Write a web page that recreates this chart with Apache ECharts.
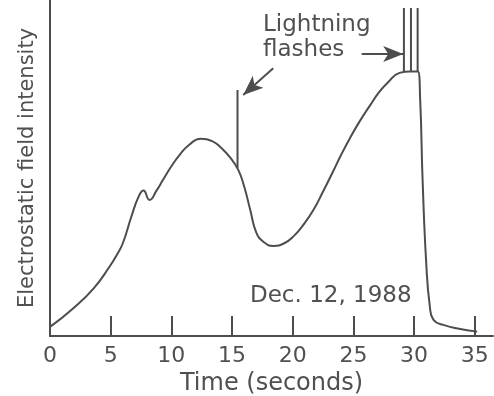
<!DOCTYPE html>
<html>
<head>
<meta charset="utf-8">
<script src="https://cdn.jsdelivr.net/npm/echarts@6/dist/echarts.min.js"></script>
<style>
html, body { margin: 0; padding: 0; background: #fff; }
#chart { width: 494px; height: 396px; }
</style>
</head>
<body>
<div id="chart"></div>
<script>
// time in seconds, field intensity in arbitrary units (0-100)
var fieldCurve = [
    [0, 2.7], [1.9, 8.2], [3.6, 14.2], [4.9, 20.6], [5.5, 24.1], [6.0, 27.6],
    [6.7, 35.5], [7.3, 41.5], [7.7, 43.3], [8.2, 40.5], [8.8, 43.4],
    [9.3, 46.4], [10.0, 50.5], [10.7, 54.0], [11.5, 57.0], [12.4, 58.7],
    [13.4, 57.9], [14.1, 56.0], [14.8, 53.3], [15.5, 49.5], [16.0, 44.5],
    [16.5, 37.5], [17.0, 30.8], [17.6, 28.0], [18.4, 26.8], [19.3, 27.6],
    [20.1, 29.8], [20.9, 33.2], [21.7, 37.5], [22.5, 43.0], [23.3, 48.8],
    [24.0, 54.0], [24.7, 58.8], [25.5, 63.8], [26.4, 68.8], [27.1, 72.5],
    [27.8, 75.3], [28.8, 78.3], [29.7, 78.7], [30.3, 78.7], [30.5, 70.2],
    [30.7, 46.4], [31.0, 21.6], [31.3, 8.7], [31.6, 4.8], [32.4, 3.3],
    [33.8, 2.1], [35.2, 1.3]
];
// lightning flashes: [time, base, top]
var flashes = [
    [15.45, 50.0, 73.2],
    [29.16, 78.5, 97.6],
    [29.74, 78.7, 97.6],
    [30.29, 78.7, 97.6]
];
// arrows: [fromTime, fromValue, toTime, toValue]
var arrows = [
    [18.39, 79.7, 15.92, 71.7],
    [25.68, 83.9, 29.1, 83.9]
];
var tickValues = [5, 10, 15, 20, 25, 30, 35];
var labelValues = [0, 5, 10, 15, 20, 25, 30, 35];

var ink = '#4d4d4d';
var textInk = '#505050';
var font = 'DejaVu Sans';

var flashData = [];
flashes.forEach(function (f) {
    flashData.push([f[0], f[1]], [f[0], f[2]], '-');
});

var arrowData = arrows.map(function (a) {
    return [{ coord: [a[0], a[1]] }, { coord: [a[2], a[3]] }];
});

var chart = echarts.init(document.getElementById('chart'));
var option = {
    animation: false,
    grid: { left: 50, right: 1, top: 0, bottom: 60, outerBoundsMode: 'none', containLabel: false },
    xAxis: {
        type: 'value',
        min: 0,
        max: 36.5,
        name: 'Time (seconds)',
        nameLocation: 'middle',
        nameGap: 33,
        nameTextStyle: { fontFamily: font, fontSize: 24, color: textInk },
        axisLine: { lineStyle: { color: ink, width: 2 } },
        axisTick: {
            show: true,
            inside: true,
            length: 20,
            customValues: tickValues,
            lineStyle: { color: ink, width: 2 }
        },
        axisLabel: {
            customValues: labelValues,
            fontFamily: font,
            fontSize: 22,
            color: textInk,
            margin: 9
        },
        splitLine: { show: false }
    },
    yAxis: {
        type: 'value',
        min: 0,
        max: 100,
        name: 'Electrostatic field intensity',
        nameLocation: 'middle',
        nameGap: 12,
        nameTextStyle: { fontFamily: font, fontSize: 21, color: textInk },
        axisLine: { show: true, lineStyle: { color: ink, width: 2 } },
        axisTick: { show: false },
        axisLabel: { show: false },
        splitLine: { show: false }
    },
    series: [
        {
            type: 'line',
            data: fieldCurve,
            smooth: 0.5,
            symbol: 'none',
            lineStyle: { color: ink, width: 2 }
        },
        {
            type: 'line',
            data: flashData,
            symbol: 'none',
            connectNulls: false,
            lineStyle: { color: ink, width: 2 },
            markLine: {
                silent: true,
                symbol: ['none', 'arrow'],
                symbolSize: [12, 20],
                label: { show: false },
                lineStyle: { color: ink, width: 2, type: 'solid' },
                data: arrowData
            }
        }
    ],
    graphic: [
        {
            type: 'text', left: 263, top: 14,
            style: { text: 'Lightning', font: '23px "DejaVu Sans"', fill: textInk }
        },
        {
            type: 'text', left: 263, top: 39,
            style: { text: 'flashes', font: '23px "DejaVu Sans"', fill: textInk }
        },
        {
            type: 'text', left: 250, top: 285,
            style: { text: 'Dec. 12, 1988', font: '23px "DejaVu Sans"', fill: textInk }
        }
    ]
};
chart.setOption(option);
</script>
</body>
</html>
